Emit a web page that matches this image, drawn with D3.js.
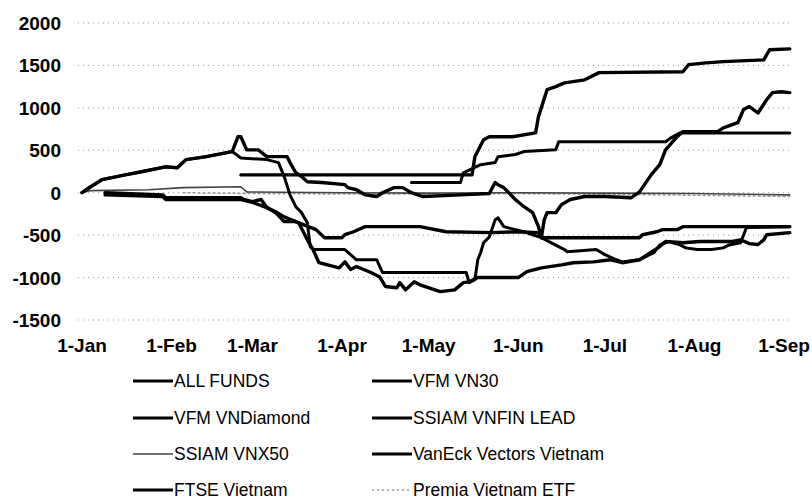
<!DOCTYPE html>
<html>
<head>
<meta charset="utf-8">
<script src="https://cdn.jsdelivr.net/npm/d3@7/dist/d3.min.js"></script>
<style>
  html, body { margin: 0; padding: 0; background: #fff; }
  svg { display: block; }
  text { font-family: "Liberation Sans", Arial, sans-serif; fill: #000; }
</style>
</head>
<body>
<svg id="chart" width="812" height="500"></svg>
<script>
// ---------- DATA ----------
const yTicks = [-1500, -1000, -500, 0, 500, 1000, 1500, 2000];
const xTickDates = ["01-01","02-01","03-01","04-01","05-01","06-01","07-01","08-01","09-01"];
const xTickLabels = ["1-Jan","1-Feb","1-Mar","1-Apr","1-May","1-Jun","1-Jul","1-Aug","1-Sep"];

const seriesNames = ["ALL FUNDS","VFM VN30","VFM VNDiamond","SSIAM VNFIN LEAD",
  "SSIAM VNX50","VanEck Vectors Vietnam","FTSE Vietnam","Premia Vietnam ETF"];

const allFunds = [["01-01",0],["01-04",70],["01-08",155],["01-16",210],["01-22",250],["01-30",305],
  ["02-03",295],["02-06",390],["02-13",425],["02-22",485],["02-24",660],["02-25",660],["02-27",505],
  ["03-03",505],["03-06",425],["03-13",425],["03-14",355],["03-16",235],["03-18",190],["03-20",130],
  ["03-25",120],["04-02",95],["04-03",60],["04-06",35],["04-09",-25],["04-13",-45],["04-15",0],
  ["04-19",60],["04-22",60],["04-25",0],["04-29",-45],["05-12",-25],["05-22",-10],["05-24",120],
  ["05-25",95],["05-27",60],["05-31",-80],["06-03",-165],["06-06",-235],["06-08",-400],["06-09",-530],
  ["06-10",-320],["06-11",-235],["06-14",-235],["06-16",-140],["06-19",-80],["06-24",-45],["07-01",-45],
  ["07-10",-60],["07-13",10],["07-17",210],["07-20",330],["07-22",505],["07-26",660],["07-28",720],
  ["08-09",720],["08-11",765],["08-16",825],["08-18",980],["08-20",1015],["08-23",940],["08-26",1095],
  ["08-28",1180],["08-31",1190],["09-03",1180]];

const vfmVN30 = [["01-01",0],["01-04",70],["01-08",155],["01-16",210],["01-22",250],["01-30",305],
  ["02-03",295],["02-06",390],["02-13",425],["02-22",485],["02-25",410],["03-06",390],["03-10",355],
  ["03-12",190],["03-14",-25],["03-16",-165],["03-18",-235],["03-20",-355],["03-21",-635],["03-22",-670],
  ["04-02",-670],["04-06",-790],["04-13",-790],["04-15",-940],["05-14",-940],["05-15",-1060],["05-17",-1025],
  ["05-18",-790],["05-19",-705],["05-20",-590],["05-22",-520],["05-24",-320],["05-25",-295],["05-27",-400],
  ["05-31",-435],["06-03",-460],["06-06",-495],["06-09",-530],["06-17",-670],["06-18",-695],["06-28",-670],
  ["07-01",-730],["07-05",-790],["07-07",-815],["07-13",-790],["07-18",-705],["07-20",-615],["07-23",-575],
  ["07-27",-615],["07-29",-650],["08-02",-670],["08-07",-670],["08-11",-650],["08-13",-615],["08-17",-590],
  ["08-19",-410],["09-03",-400]];

const vfmVNDiamond = [["02-25",210],["05-16",210],["05-17",425],["05-20",625],["05-22",660],["05-30",660],
  ["06-07",705],["06-08",895],["06-11",1215],["06-14",1250],["06-17",1295],["06-24",1330],["06-29",1415],
  ["07-28",1425],["07-30",1510],["08-05",1530],["08-11",1545],["08-25",1565],["08-27",1685],["09-03",1695]];

const ssiamVNFIN = [["04-25",120],["05-12",120],["05-13",235],["05-19",330],["05-24",355],["05-25",425],
  ["05-31",450],["06-03",485],["06-14",505],["06-15",600],["07-22",600],["07-24",650],["07-27",705],["09-03",705]];

const ssiamVNX50 = [["01-01",0],["01-04",25],["01-24",35],["02-05",60],["02-25",70],["02-27",10],
  ["04-01",0],["05-01",-5],["06-01",0],["07-01",-5],["08-01",-10],["09-03",-25]];

const vanEck = [["01-09",-25],["01-29",-45],["01-30",-80],["02-25",-80],["03-01",-115],["03-06",-175],
  ["03-09",-225],["03-12",-285],["03-17",-355],["03-20",-555],["03-22",-670],["03-24",-825],["03-31",-885],
  ["04-02",-815],["04-04",-905],["04-06",-870],["04-11",-940],["04-14",-990],["04-16",-1105],["04-20",-1120],
  ["04-21",-1060],["04-23",-1145],["04-26",-1050],["04-28",-1085],["05-05",-1165],["05-10",-1145],
  ["05-13",-1060],["05-15",-1050],["05-18",-1000],["06-01",-1000],["06-04",-930],["06-09",-885],
  ["06-16",-850],["06-20",-825],["06-27",-815],["07-03",-790],["07-07",-825],["07-13",-790],["07-20",-635],
  ["07-22",-575],["07-28",-590],["08-03",-575],["08-14",-575],["08-17",-555],["08-20",-600],["08-23",-610],
  ["08-25",-555],["08-26",-495],["09-03",-470]];

const ftseVietnam = [["01-09",0],["01-29",-25],["01-30",-60],["02-25",-60],["02-26",-80],["03-01",-105],
  ["03-04",-80],["03-06",-175],["03-09",-235],["03-12",-340],["03-16",-340],["03-23",-435],["03-26",-530],
  ["04-01",-530],["04-02",-495],["04-05",-460],["04-09",-400],["04-28",-400],["05-07",-460],["05-23",-470],
  ["06-01",-460],["06-08",-470],["06-09",-530],["07-13",-530],["07-14",-495],["07-19",-460],["07-21",-435],
  ["07-26",-435],["07-28",-400],["09-03",-400]];

const premia = [["02-05",0],["03-01",-10],["04-01",-15],["05-01",-15],["06-01",-10],["07-01",-20],
  ["08-01",-30],["09-03",-45]];

const seriesData = [allFunds, vfmVN30, vfmVNDiamond, ssiamVNFIN, ssiamVNX50, vanEck, ftseVietnam, premia];

// ---------- STYLES ----------
const styles = [
  {color:"#000", width:3.4, dash:null},
  {color:"#000", width:3.0, dash:null},
  {color:"#000", width:3.4, dash:null},
  {color:"#000", width:3.0, dash:null},
  {color:"#444", width:1.6, dash:null},
  {color:"#000", width:3.4, dash:null},
  {color:"#000", width:3.4, dash:null},
  {color:"#999", width:1.5, dash:"2,3"}
];

// ---------- CHART ----------
const parse = d3.timeParse("%Y-%m-%d");
const toDate = s => parse("2021-" + s);

const svg = d3.select("#chart");
const x = d3.scaleTime().domain([toDate("01-01"), toDate("09-01")]).range([82, 784]);
const y = d3.scaleLinear().domain([-1500, 2000]).range([320, 23]);

// gridlines
svg.append("g").selectAll("line").data(yTicks).join("line")
  .attr("x1", 78).attr("x2", 792)
  .attr("y1", d => y(d)).attr("y2", d => y(d))
  .attr("stroke", "#9a9a9a").attr("stroke-width", 1).attr("stroke-dasharray", "1,4");

// y labels
svg.append("g").selectAll("text").data(yTicks).join("text")
  .attr("x", 61).attr("y", d => y(d) + 7)
  .attr("text-anchor", "end").attr("font-size", 19).attr("font-weight", "bold")
  .text(d => d);

// x labels
svg.append("g").selectAll("text").data(xTickDates).join("text")
  .attr("x", d => x(toDate(d))).attr("y", 352)
  .attr("text-anchor", "middle").attr("font-size", 19).attr("font-weight", "bold")
  .text((d, i) => xTickLabels[i]);

// lines
const line = d3.line().x(d => x(toDate(d[0]))).y(d => y(d[1]));
const drawOrder = [7, 4, 6, 5, 1, 3, 2, 0];
drawOrder.forEach(i => {
  const s = styles[i];
  svg.append("path").datum(seriesData[i])
    .attr("fill", "none").attr("stroke", s.color).attr("stroke-width", s.width)
    .attr("stroke-linejoin", "round").attr("stroke-linecap", "round")
    .attr("stroke-dasharray", s.dash)
    .attr("d", line);
});

// legend
const legX = [133, 372];
const legBase = [387, 424, 460, 496];
seriesNames.forEach((name, i) => {
  const col = i % 2, row = Math.floor(i / 2);
  const s = styles[i];
  const g = svg.append("g");
  g.append("line").attr("x1", legX[col]).attr("x2", legX[col] + 40)
    .attr("y1", legBase[row] - 6).attr("y2", legBase[row] - 6)
    .attr("stroke", s.color).attr("stroke-width", Math.min(s.width, 3))
    .attr("stroke-dasharray", s.dash);
  g.append("text").attr("x", legX[col] + 41).attr("y", legBase[row])
    .attr("font-size", 17.5).text(name);
});
</script>
</body>
</html>
